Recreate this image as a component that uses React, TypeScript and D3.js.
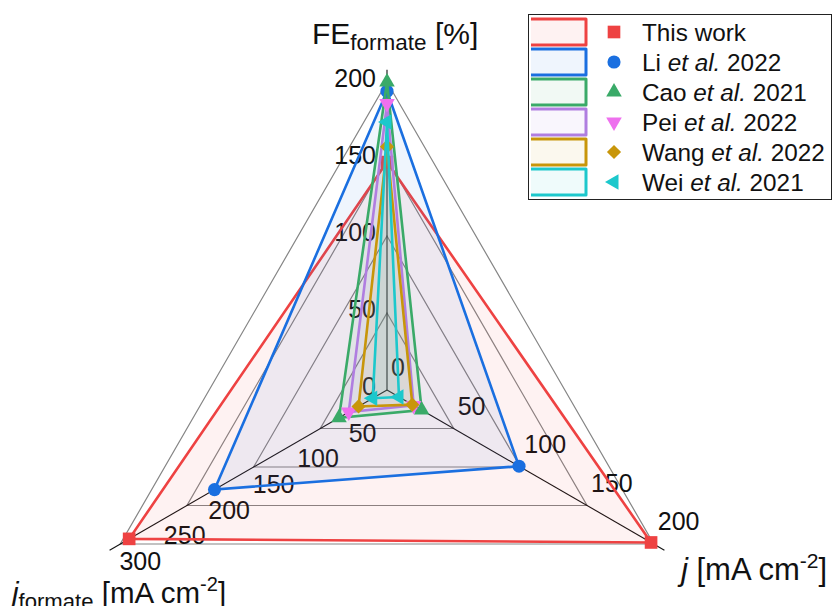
import React, { useEffect, useRef } from 'react';
import * as d3 from 'd3';

// series data
const seriesLabels = ['This work', 'Li et al. 2022', 'Cao et al. 2021', 'Pei et al. 2022', 'Wang et al. 2022', 'Wei et al. 2021'];
const feValues = [148, 194, 200, 186, 158, 174];
const jValues = [198, 99, 26, 20, 19, 9];
const jFormateValues = [290, 194, 54, 43, 32, 16];

// tick labels for each axis (the 0 of j_formate is hidden under the marks in the original)
const feTicks = [0, 50, 100, 150, 200];
const jTicks = [0, 50, 100, 150, 200];
const jFormateTicks = [50, 100, 150, 200, 250, 300];
const gridLevels = [0.25, 0.5, 0.75, 1];

const lineColors = ['#ee4242', '#1a6fe0', '#3aaa68', '#b07ee0', '#c8960a', '#1cc8cc'];
const markerColors = ['#ee4242', '#1a6fe0', '#3aaa68', '#ee70ee', '#c8960a', '#1cc8cc'];
const markerShapes = ['square', 'circle', 'up', 'down', 'diamond', 'left'];

const FONT = 'Liberation Sans, Arial, sans-serif';

const markerPath = (shape: string) => {
  if (shape === 'square') return { d: d3.symbol(d3.symbolSquare, 160)(), rot: 0 };
  if (shape === 'circle') return { d: d3.symbol(d3.symbolCircle, 135)(), rot: 0 };
  if (shape === 'diamond') return { d: d3.symbol(d3.symbolSquare, 100)(), rot: 45 };
  const tri = d3.symbol(d3.symbolTriangle, 105)();
  if (shape === 'down') return { d: tri, rot: 180 };
  if (shape === 'left') return { d: tri, rot: -90 };
  return { d: tri, rot: 0 };
};

const App = () => {
  const ref = useRef<SVGSVGElement>(null);

  useEffect(() => {
    const svg = d3.select(ref.current);
    svg.selectAll('*').remove();

    // centre and radius of the radar
    const cx = 387;
    const cy = 390;
    const R = 308;

    const angles = [-90, 30, 150].map((a) => (a * Math.PI) / 180);
    const scales = [
      d3.scaleLinear().domain([0, 200]).range([0, R]),
      d3.scaleLinear().domain([0, 200]).range([0, R]),
      d3.scaleLinear().domain([0, 300]).range([0, R]),
    ];
    const pt = (axis: number, r: number): [number, number] => [
      cx + r * Math.cos(angles[axis]),
      cy + r * Math.sin(angles[axis]),
    ];

    // grid triangles
    const g = svg.append('g');
    gridLevels.forEach((lv) => {
      g.append('path')
        .attr('d', d3.line()([0, 1, 2].map((a) => pt(a, lv * R))) + 'Z')
        .attr('fill', 'none')
        .attr('stroke', '#858585')
        .attr('stroke-width', 1.2);
    });

    // axis lines
    [0, 1, 2].forEach((a) => {
      const [x, y] = pt(a, R * 1.04);
      g.append('line')
        .attr('x1', cx)
        .attr('y1', cy)
        .attr('x2', x)
        .attr('y2', y)
        .attr('stroke', '#111')
        .attr('stroke-width', 1.1);
    });

    // tick labels
    const tickText = (x: number, y: number, t: string, anchor: string) =>
      g.append('text')
        .attr('x', x)
        .attr('y', y)
        .attr('text-anchor', anchor)
        .style('font-family', FONT)
        .style('font-size', '25px')
        .attr('fill', '#111')
        .text(t);

    feTicks.forEach((t) => {
      const [x, y] = pt(0, scales[0](t));
      tickText(x - 11, y + 5, String(t), 'end');
    });
    jTicks.forEach((t) => {
      const [x, y] = pt(1, scales[1](t));
      tickText(x + 4, y - 14, String(t), 'start');
    });
    jFormateTicks.forEach((t) => {
      const [x, y] = pt(2, scales[2](t));
      tickText(x + 20, y + 26, String(t), 'middle');
    });

    // series polygons and markers
    const data = seriesLabels.map((_, i) => [feValues[i], jValues[i], jFormateValues[i]]);
    data.forEach((vals, i) => {
      const pts = vals.map((v, a) => pt(a, scales[a](v)));
      const sg = svg.append('g');
      sg.append('path')
        .attr('d', d3.line().curve(d3.curveLinearClosed)(pts))
        .attr('fill', lineColors[i])
        .attr('fill-opacity', 0.07)
        .attr('stroke', lineColors[i])
        .attr('stroke-width', 2.6)
        .attr('stroke-linejoin', 'miter');
      const m = markerPath(markerShapes[i]);
      pts.forEach(([x, y]) => {
        sg.append('path')
          .attr('d', m.d)
          .attr('transform', `translate(${x},${y}) rotate(${m.rot})`)
          .attr('fill', markerColors[i]);
      });
    });

    // axis titles
    const title = (x: number, y: number, main: string, sub: string, rest: string, sup: string, size: number) => {
      const t = svg.append('text')
        .attr('x', x)
        .attr('y', y)
        .style('font-family', FONT)
        .style('font-size', `${size}px`)
        .attr('fill', '#111');
      const mainSpan = t.append('tspan').text(main);
      if (main === 'j') mainSpan.style('font-style', 'italic');
      if (sub) t.append('tspan').attr('dy', 6).style('font-size', `${size * 0.75}px`).text(sub);
      t.append('tspan').attr('dy', sub ? -6 : 0).text(rest);
      if (sup) {
        t.append('tspan').attr('dy', -12).style('font-size', `${size * 0.68}px`).text(sup);
        t.append('tspan').attr('dy', 12).text(']');
      }
    };
    title(312, 44, 'FE', 'formate', ' [%]', '', 30);
    title(681, 580, 'j', '', ' [mA cm', '-2', 31);
    title(12, 603, 'j', 'formate', ' [mA cm', '-2', 29.5);

    // legend
    const lg = svg.append('g');
    lg.append('rect')
      .attr('x', 528.5)
      .attr('y', 14.5)
      .attr('width', 303)
      .attr('height', 185)
      .attr('fill', '#fff')
      .attr('stroke', '#222')
      .attr('stroke-width', 1);
    seriesLabels.forEach((label, i) => {
      const yc = 32 + i * 30;
      lg.append('rect')
        .attr('x', 531)
        .attr('y', yc - 13)
        .attr('width', 56)
        .attr('height', 26)
        .attr('fill', lineColors[i])
        .attr('fill-opacity', 0.07);
      lg.append('path')
        .attr('d', `M531,${yc - 13} H586 V${yc + 13} H531`)
        .attr('fill', 'none')
        .attr('stroke', lineColors[i])
        .attr('stroke-width', 3)
        .attr('stroke-linejoin', 'round');
      const m = markerPath(markerShapes[i]);
      lg.append('path')
        .attr('d', m.d)
        .attr('transform', `translate(614,${yc}) rotate(${m.rot})`)
        .attr('fill', markerColors[i]);
      const t = lg.append('text')
        .attr('x', 642)
        .attr('y', yc + 8.5)
        .style('font-family', FONT)
        .style('font-size', '24.3px')
        .attr('fill', '#111');
      const parts = label.split('et al.');
      if (parts.length > 1) {
        t.append('tspan').text(parts[0]);
        t.append('tspan').style('font-style', 'italic').text('et al.');
        t.append('tspan').text(parts[1]);
      } else {
        t.text(label);
      }
    });
  }, []);

  return (
    <div style={{ margin: -8 }}>
      <svg ref={ref} width={840} height={614} style={{ display: 'block', background: '#fff' }} />
    </div>
  );
};

export default App;
